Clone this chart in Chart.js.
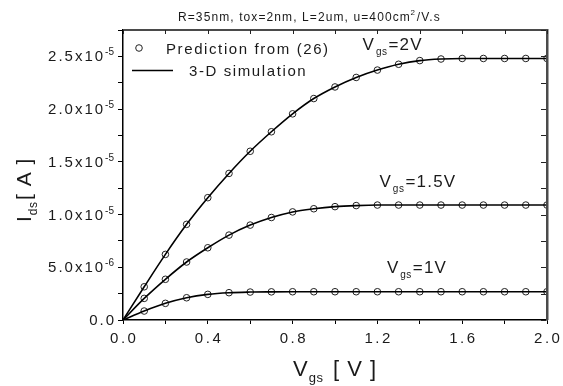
<!DOCTYPE html>
<html>
<head>
<meta charset="utf-8">
<script src="https://cdn.jsdelivr.net/npm/chart.js@4.4.0/dist/chart.umd.min.js"></script>
<style>
  html, body { margin: 0; padding: 0; background: #fff; }
</style>
</head>
<body>
<canvas id="idsChart" width="563" height="386"></canvas>
<script>
// Vds sweep (V)
const vds = [0, 0.1, 0.2, 0.3, 0.4, 0.5, 0.6, 0.7, 0.8, 0.9, 1.0,
             1.1, 1.2, 1.3, 1.4, 1.5, 1.6, 1.7, 1.8, 1.9, 2.0];

// Ids in uA
const ids2V  = [0, 3.15, 6.22, 9.07, 11.6, 13.9, 16.0, 17.85, 19.55, 21.0, 22.1,
                23.0, 23.7, 24.25, 24.6, 24.75, 24.8, 24.8, 24.8, 24.8, 24.8];
const ids15V = [0, 2.05, 3.86, 5.5, 6.85, 8.05, 9.0, 9.72, 10.25, 10.55, 10.75,
                10.85, 10.9, 10.9, 10.9, 10.9, 10.9, 10.9, 10.9, 10.9, 10.9];
const ids1V  = [0, 0.85, 1.58, 2.11, 2.43, 2.59, 2.65, 2.67, 2.68, 2.68, 2.68,
                2.68, 2.68, 2.68, 2.68, 2.68, 2.68, 2.68, 2.68, 2.68, 2.68];

const curveLabels = ['2', '1.5', '1'];
const xTickLabels = ['0.0', '0.4', '0.8', '1.2', '1.6', '2.0'];

const FONT = '"Liberation Sans", Arial, sans-serif';
const INK = '#1a1a1a';
const FRAME = '#4a4a4a';

function toPoints(ys) {
    return vds.map(function(x, i) { return { x: x, y: ys[i] * 1e-6 }; });
}
function markerPoints(ys) {
    return toPoints(ys).slice(1);
}

const curves = [ids2V, ids15V, ids1V];
const datasets = [];
curves.forEach(function(ys, k) {
    datasets.push({
        label: '3-D simulation',
        data: toPoints(ys),
        showLine: true,
        borderColor: '#000',
        borderWidth: 1.6,
        pointRadius: 0,
        cubicInterpolationMode: 'monotone',
        fill: false
    });
    datasets.push({
        label: 'Prediction from (26)',
        data: markerPoints(ys),
        showLine: false,
        pointStyle: 'circle',
        pointRadius: 3.3,
        pointBorderWidth: 1,
        pointBorderColor: '#222',
        pointBackgroundColor: 'rgba(0,0,0,0)'
    });
});

// draw text with letter spacing, returns the width used
function spaced(ctx, text, x, y, font, ls) {
    ctx.font = font;
    ctx.letterSpacing = ls + 'px';
    ctx.fillText(text, x, y);
    const w = ctx.measureText(text).width;
    ctx.letterSpacing = '0px';
    return w;
}

// frame + inward ticks on top/right
const frame = {
    id: 'frame',
    afterDraw: function(chart) {
        const ctx = chart.ctx;
        const xs = chart.scales.x, ys = chart.scales.y;
        const a = chart.chartArea;
        ctx.save();
        ctx.fillStyle = FRAME;
        ctx.fillRect(a.left, a.top - 1, a.right - a.left, 2);
        ctx.fillRect(a.right - 1, a.top - 1, 2.5, a.bottom - a.top + 1);
        ctx.fillStyle = '#222';
        xs.ticks.forEach(function(t) {
            const px = Math.round(xs.getPixelForValue(t.value));
            ctx.fillRect(px, a.top, 1, 4);
        });
        ys.ticks.forEach(function(t) {
            const py = Math.round(ys.getPixelForValue(t.value));
            ctx.fillRect(a.right - 6, py, 5, 1);
        });
        ctx.restore();
    }
};

const decorations = {
    id: 'decorations',
    afterDraw: function(chart) {
        const ctx = chart.ctx;
        const xs = chart.scales.x, ys = chart.scales.y;
        const area = chart.chartArea;
        ctx.save();
        ctx.fillStyle = INK;
        ctx.textBaseline = 'alphabetic';
        ctx.textAlign = 'left';

        // x tick labels
        xs.ticks.forEach(function(t, i) {
            if (i % 2 !== 0) return;
            const lbl = xTickLabels[i / 2];
            ctx.font = '15px ' + FONT;
            ctx.letterSpacing = '2.5px';
            const w = ctx.measureText(lbl).width - 2.5;
            ctx.fillText(lbl, xs.getPixelForValue(t.value) - w / 2, area.bottom + 23);
            ctx.letterSpacing = '0px';
        });

        // y tick labels with exponent
        ys.ticks.forEach(function(t, i) {
            if (i % 2 !== 0) return;
            const py = ys.getPixelForValue(t.value);
            const right = area.left - 9;
            if (t.value === 0) {
                ctx.font = '15px ' + FONT;
                ctx.letterSpacing = '2px';
                const w0 = ctx.measureText('0.0').width - 2;
                ctx.fillText('0.0', right - w0, py + 5);
                ctx.letterSpacing = '0px';
                return;
            }
            const e = Math.floor(Math.log10(t.value) + 1e-9);
            const mant = (t.value / Math.pow(10, e)).toFixed(1);
            const sup = String(e);
            ctx.font = '10px ' + FONT;
            const ws = ctx.measureText(sup).width;
            ctx.fillText(sup, right - ws, py - 1);
            ctx.font = '15px ' + FONT;
            ctx.letterSpacing = '2px';
            const txt = mant + 'x10';
            const wm = ctx.measureText(txt).width;
            ctx.fillText(txt, right - ws - wm, py + 5);
            ctx.letterSpacing = '0px';
        });

        // title
        const tFont = '12px ' + FONT;
        let tx = 178;
        tx += spaced(ctx, 'R=35nm, tox=2nm, L=2um, u=400cm', tx, 21, tFont, 1.1);
        tx += spaced(ctx, '2', tx - 0.5, 15, '8px ' + FONT, 0.5);
        spaced(ctx, '/V.s', tx + 1, 21, tFont, 1.1);

        // legend
        ctx.strokeStyle = '#222';
        ctx.lineWidth = 1;
        ctx.beginPath();
        ctx.arc(139, 48, 3.3, 0, Math.PI * 2);
        ctx.stroke();
        spaced(ctx, datasets[1].label, 166, 54, '15px ' + FONT, 1.6);
        ctx.strokeStyle = '#000';
        ctx.lineWidth = 1.6;
        ctx.beginPath();
        ctx.moveTo(132, 70.5);
        ctx.lineTo(173, 70.5);
        ctx.stroke();
        spaced(ctx, datasets[0].label, 189, 76, '15px ' + FONT, 1.6);

        // curve labels, anchored in data space
        const anchors = [[1.13, 2.56e-5], [1.21, 1.26e-5], [1.245, 4.45e-6]];
        curveLabels.forEach(function(v, k) {
            let ax = xs.getPixelForValue(anchors[k][0]);
            const ay = ys.getPixelForValue(anchors[k][1]);
            ax += spaced(ctx, 'V', ax, ay, '17px ' + FONT, 0);
            ax += spaced(ctx, 'gs', ax + 2, ay + 5, '10px ' + FONT, 0.5) + 3;
            spaced(ctx, '=' + v + 'V', ax, ay, '17px ' + FONT, 1.2);
        });

        // x axis title
        let vx = 293;
        vx += spaced(ctx, 'V', vx, 376, '22px ' + FONT, 0);
        spaced(ctx, 'gs', vx + 1, 382, '13px ' + FONT, 0.5);
        spaced(ctx, '[ V ]', 333, 376, '22px ' + FONT, 1);

        // y axis title (rotated)
        ctx.translate(31, 222);
        ctx.rotate(-Math.PI / 2);
        let ix = 0;
        ix += spaced(ctx, 'I', ix, 0, '21px ' + FONT, 0);
        spaced(ctx, 'ds', ix + 1, 6, '12px ' + FONT, 0.5);
        spaced(ctx, '[ A ]', 22, 0, '21px ' + FONT, 1);

        ctx.restore();
    }
};

const ctx = document.getElementById('idsChart').getContext('2d');
new Chart(ctx, {
    type: 'scatter',
    data: { datasets: datasets },
    options: {
        responsive: false,
        animation: false,
        layout: { padding: 0 },
        plugins: {
            legend: { display: false },
            tooltip: { enabled: false }
        },
        scales: {
            x: {
                type: 'linear',
                position: 'bottom',
                min: 0,
                max: 2.0,
                afterFit: function(s) { s.height = 66; },
                border: { color: '#000', width: 1.5 },
                grid: { drawOnChartArea: false, drawTicks: true, tickLength: 4, color: '#000' },
                ticks: { stepSize: 0.2, display: false }
            },
            y: {
                type: 'linear',
                position: 'left',
                min: 0,
                max: 2.75e-5,
                afterFit: function(s) { s.width = 123; },
                border: { color: '#000', width: 1.5 },
                grid: { drawOnChartArea: false, drawTicks: true, tickLength: 5, color: '#000' },
                ticks: { stepSize: 2.5e-6, display: false }
            },
            x2: {
                type: 'linear',
                position: 'top',
                afterFit: function(s) { s.height = 30; },
                grid: { display: false },
                ticks: { display: false }
            },
            y2: {
                type: 'linear',
                position: 'right',
                afterFit: function(s) { s.width = 16; },
                grid: { display: false },
                ticks: { display: false }
            }
        }
    },
    plugins: [frame, decorations]
});
</script>
</body>
</html>
